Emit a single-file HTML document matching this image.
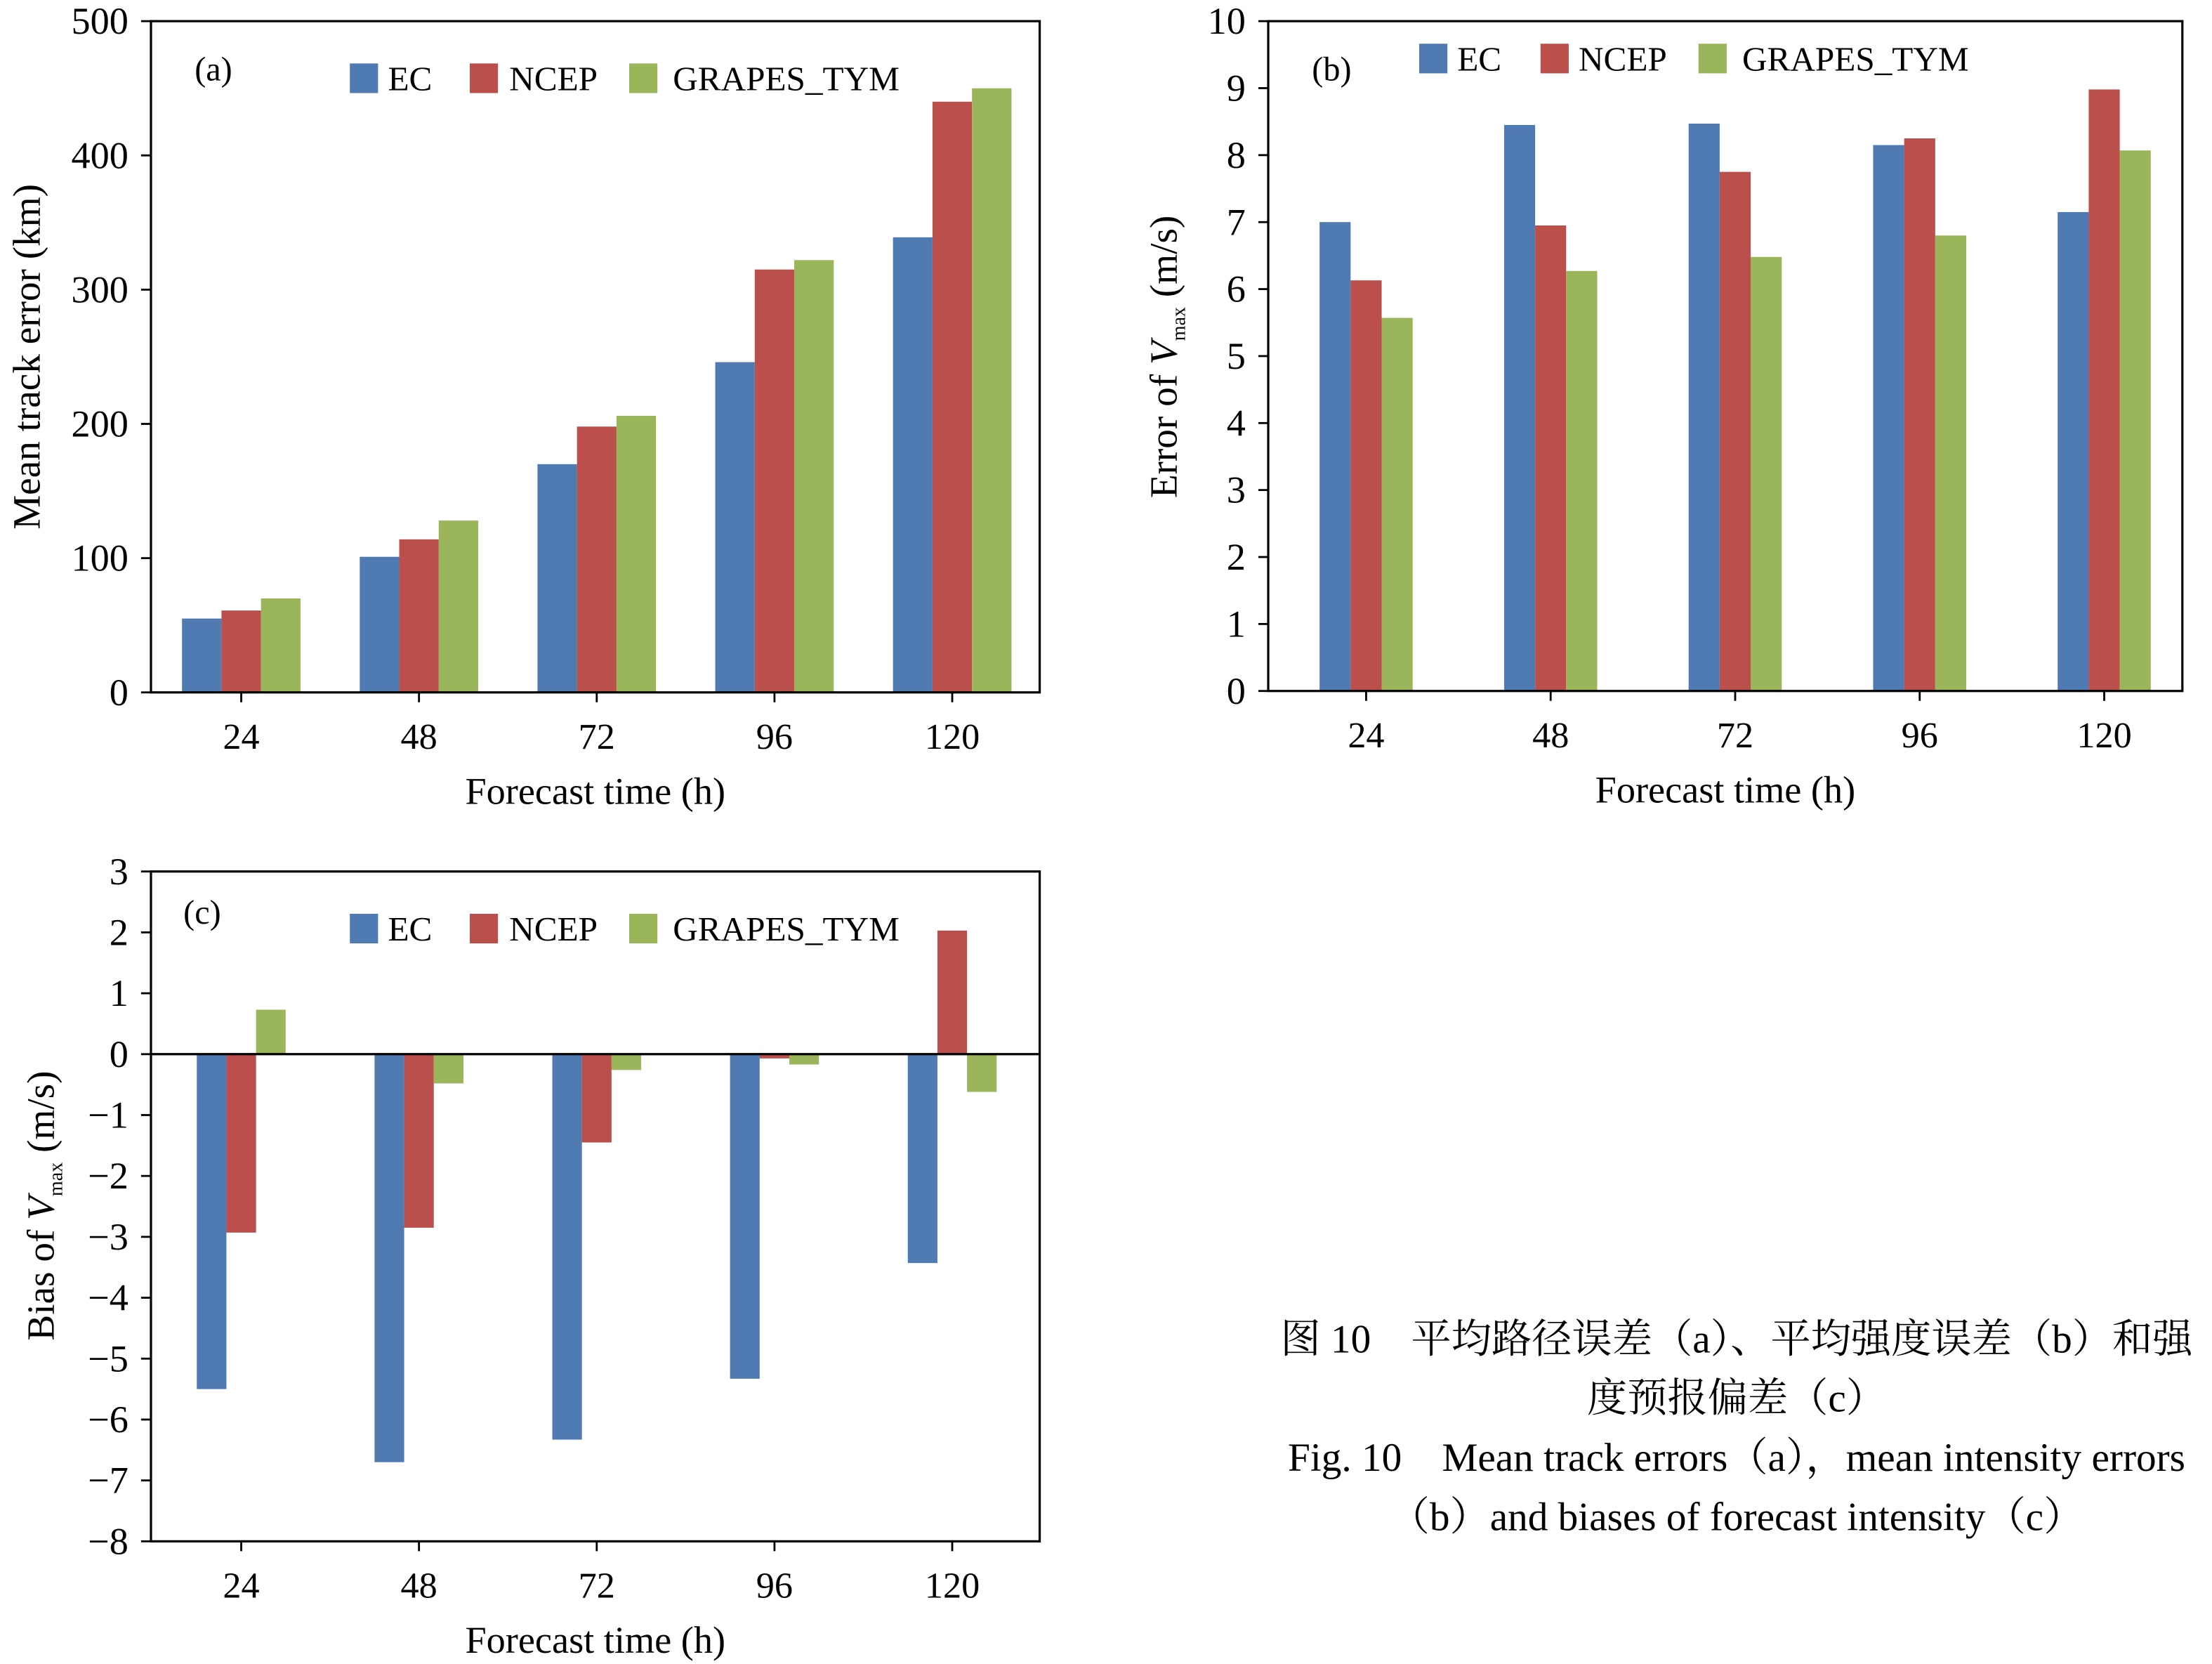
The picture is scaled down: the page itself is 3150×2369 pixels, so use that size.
<!DOCTYPE html>
<html><head><meta charset="utf-8"><style>
html,body{margin:0;padding:0;background:#fff;}
svg{display:block;font-family:"Liberation Serif","Noto Serif CJK SC",serif;}
</style></head><body>
<svg id="fig" width="3150" height="2369" viewBox="0 0 1568 1180" preserveAspectRatio="none" xmlns="http://www.w3.org/2000/svg">
<g font-size="28.5" text-anchor="middle" fill="#000">
<text x="1231" y="959" font-family="Liberation Serif, Noto Serif CJK SC, serif">图 10　平均路径误差（a）、平均强度误差（b）和强</text>
<text x="1231" y="1001" font-family="Liberation Serif, Noto Serif CJK SC, serif">度预报偏差（c）</text>
<text x="1231" y="1043" font-family="Liberation Serif, Noto Serif CJK SC, serif">Fig. 10　Mean track errors（a），mean intensity errors</text>
<text x="1231" y="1085" font-family="Liberation Serif, Noto Serif CJK SC, serif">（b）and biases of forecast intensity（c）</text>
</g>
</svg>
<script>
const categories = ["24","48","72","96","120"];
const seriesNames = ["EC","NCEP","GRAPES_TYM"];
const colors = ["#4f7ab2","#bb4f4c","#9bb55a"];
const aEC = [55,101,170,246,339];
const aNCEP = [61,114,198,315,440];
const aGR = [70,128,206,322,450];
const aTicks = [0,100,200,300,400,500];
const bEC = [7.0,8.45,8.47,8.15,7.15];
const bNCEP = [6.13,6.95,7.75,8.25,8.98];
const bGR = [5.57,6.27,6.48,6.8,8.07];
const bTicks = [0,1,2,3,4,5,6,7,8,9,10];
const cEC = [-5.5,-6.7,-6.33,-5.33,-3.43];
const cNCEP = [-2.93,-2.85,-1.45,-0.07,2.03];
const cGR = [0.73,-0.48,-0.26,-0.17,-0.62];
const cTicks = [-8,-7,-6,-5,-4,-3,-2,-1,0,1,2,3];

const svg = document.getElementById('fig');
const NS = "http://www.w3.org/2000/svg";
function mk(tag, attrs, parent){
  const e = document.createElementNS(NS, tag);
  for (const k in attrs) e.setAttribute(k, attrs[k]);
  (parent||svg).appendChild(e);
  return e;
}
function fmt(v){ return v<0 ? "\u2212"+(-v) : String(v); }

function panel(cfg){
  const g = mk('g', {});
  
  
  const {x0,x1,y0,y1,min,max} = cfg;
  const cx0 = cfg.cx0 ?? x0, cx1 = cfg.cx1 ?? x1;
  const yS = v => y1 - (v-min)/(max-min)*(y1-y0);
  const cw = (cx1-cx0)/categories.length;
  const xC = i => cx0 + cw*(i+0.5) + (cfg.off||0);
  cfg.series.forEach((arr, s) => {
    arr.forEach((v, i) => {
      const x = xC(i) - cfg.bw*1.5 + s*cfg.bw;
      const ya = yS(v), yb = yS(0 > min ? 0 : min);
      const r = mk('rect', {x:x, y:Math.min(ya,yb), width:cfg.bw, height:Math.abs(yb-ya), fill:colors[s]}, g);
      
      
    });
  });
  const fr = mk('rect', {x:x0, y:y0, width:x1-x0, height:y1-y0, fill:'none', stroke:'#000', 'stroke-width':1.6}, g);
  
  
  if (min < 0) {
    const zl = mk('line', {x1:x0, x2:x1, y1:yS(0), y2:yS(0), stroke:'#000', 'stroke-width':1.6}, g);
    
    
  }
  cfg.ticks.forEach(t => {
    const y = yS(t);
    mk('line', {x1:x0-7, x2:x0, y1:y, y2:y, stroke:'#000', 'stroke-width':1.4}, g);
    const tx = mk('text', {x:x0-16, y:y+9, 'font-size':27, 'text-anchor':'end'}, g);
    tx.textContent = fmt(t);
    
    
  });
  categories.forEach((c, i) => {
    const x = xC(i);
    mk('line', {x1:x, x2:x, y1:y1, y2:y1+7, stroke:'#000', 'stroke-width':1.4}, g);
    const tx = mk('text', {x:x, y:y1+40, 'font-size':26, 'text-anchor':'middle'}, g);
    tx.textContent = c;
    
    
  });
  const xt = mk('text', {x:(x0+x1)/2, y:y1+79, 'font-size':27, 'text-anchor':'middle'}, g);
  xt.textContent = "Forecast time (h)";
  
  
  const yt = mk('text', {transform:`translate(${cfg.ytx},${cfg.yty}) rotate(-90)`, 'font-size':27.5, 'text-anchor':'middle'}, g);
  yt.innerHTML = cfg.ytitle;
  
  
  const pl = mk('text', {x:cfg.lab[0], y:cfg.lab[1], 'font-size':24}, g);
  pl.textContent = cfg.labText;
  
  
  cfg.leg.forEach((lx, s) => {
    const sq = mk('rect', {x:lx[0], y:cfg.legY, width:20, height:21, fill:colors[s]}, g);
    
    
    const t = mk('text', {x:lx[1], y:cfg.legY+19, 'font-size':24.5}, g);
    t.textContent = seriesNames[s];
    
    
  });
}

panel({name:'panel-a-track-error', x0:107, x1:737, y0:15, y1:491, min:0, max:500, bw:28, off:1,
  series:[aEC,aNCEP,aGR], ticks:aTicks, ytx:28, yty:253,
  ytitle:'Mean track  error (km)', lab:[138,57], labText:'(a)',
  legY:45, leg:[[248,275],[333,361],[446,477]]});
panel({name:'panel-b-intensity-error', x0:899, x1:1547, cx0:901, cx1:1555, y0:15, y1:490, min:0, max:10, bw:22, off:2,
  series:[bEC,bNCEP,bGR], ticks:bTicks, ytx:834, yty:253,
  ytitle:'Error of <tspan font-style="italic">V</tspan><tspan font-size="14" dy="6">max</tspan><tspan dy="-6"> (m/s)</tspan>', lab:[930,57], labText:'(b)',
  legY:31, leg:[[1006,1033],[1092,1119],[1204,1235]]});
panel({name:'panel-c-intensity-bias', x0:107, x1:737, y0:618, y1:1093, min:-8, max:3, bw:21, off:1,
  series:[cEC,cNCEP,cGR], ticks:cTicks, ytx:38, yty:855,
  ytitle:'Bias of <tspan font-style="italic">V</tspan><tspan font-size="14" dy="6">max</tspan><tspan dy="-6"> (m/s)</tspan>', lab:[130,655], labText:'(c)',
  legY:648, leg:[[248,275],[333,361],[446,477]]});
</script>
</body></html>
